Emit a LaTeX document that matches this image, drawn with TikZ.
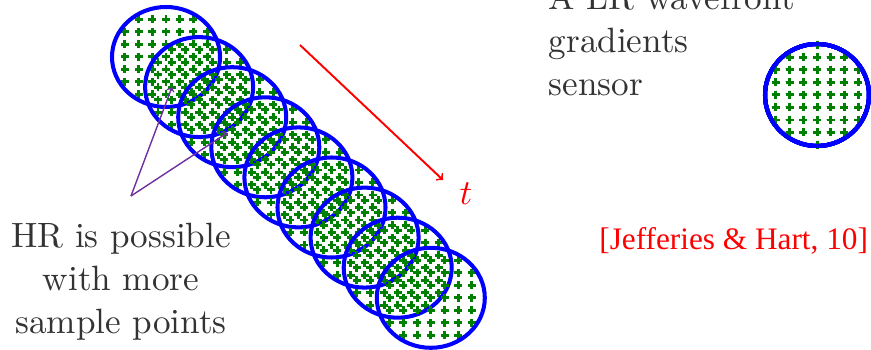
\documentclass[tikz,border=0pt]{standalone}
\usepackage{fontspec}
\newfontfamily\citefont{Liberation Serif}
\definecolor{hrpurple}{RGB}{112,48,160}
\definecolor{dotgreen}{RGB}{0,128,0}
\tikzset{
  rim/.style={draw=blue, line width=2.3pt},
  crossmark/.style={draw=dotgreen, line width=1.7pt},
  timearrow/.style={draw=red, line width=1.1pt, ->},
  hrarrow/.style={draw=hrpurple, line width=0.8pt, ->},
  bigtext/.style={font=\fontsize{10}{12.2}\selectfont, text=black!80,
    inner sep=0pt, scale=2, transform shape}
}
% one sub-aperture: grid of crosses inside an ellipse, then its rim
\newcommand{\aperture}[4]{%
  \foreach \i in {-4,...,4}
    \foreach \j in {-4,...,4}{
      \pgfmathtruncatemacro{\inside}{((\i*13.7/#3)^2+(\j*12.5/#4)^2)<0.97}
      \ifnum\inside=1
        \draw[crossmark] ({#1+\i*13.7-4},{#2+\j*12.5}) -- ++(8,0)
          ({#1+\i*13.7},{#2+\j*12.5-4}) -- ++(0,8);
      \fi
    }
  \draw[rim] (#1,#2) ellipse ({#3} and {#4});
}
\begin{document}
\begin{tikzpicture}[x=0.02cm, y=-0.02cm]
  \useasboundingbox (0,0) rectangle (871,350);
  \clip (0,0) rectangle (871,350);
  % moving sensor, one position per time step
  \foreach \k in {0,...,8}
    \aperture{166+\k*33.1}{57+\k*30.1}{54}{50}
  % the sensor on its own
  \aperture{817}{95}{52}{51}
  % time direction
  \coordinate (tstart) at (300,45);
  \coordinate (tend) at (443,180);
  \draw[timearrow] (tstart) -- (tend);
  \node[bigtext, text=red] (tlabel) at (466,194) {$t$};
  % HR remark and its arrows
  \node[bigtext, align=center] (hrnote) at (121,281.5)
    {HR is possible\\with more\\sample points};
  \coordinate (fork) at (131,196);
  \coordinate (hrA) at (172,87);
  \coordinate (hrB) at (227,133);
  \draw[hrarrow] (fork) -- (hrA);
  \draw[hrarrow] (fork) -- (hrB);
  % sensor description
  \node[bigtext, align=left, anchor=north west] (lrnote) at (548,-16.4)
    {A LR wavefront\\gradients\\sensor};
  % reference
  \node[font=\citefont\fontsize{17.8}{21}\selectfont, text=red, inner sep=0pt,
    anchor=base west] (cite) at (599,250) {[Jefferies \& Hart, 10]};
\end{tikzpicture}
\end{document}
